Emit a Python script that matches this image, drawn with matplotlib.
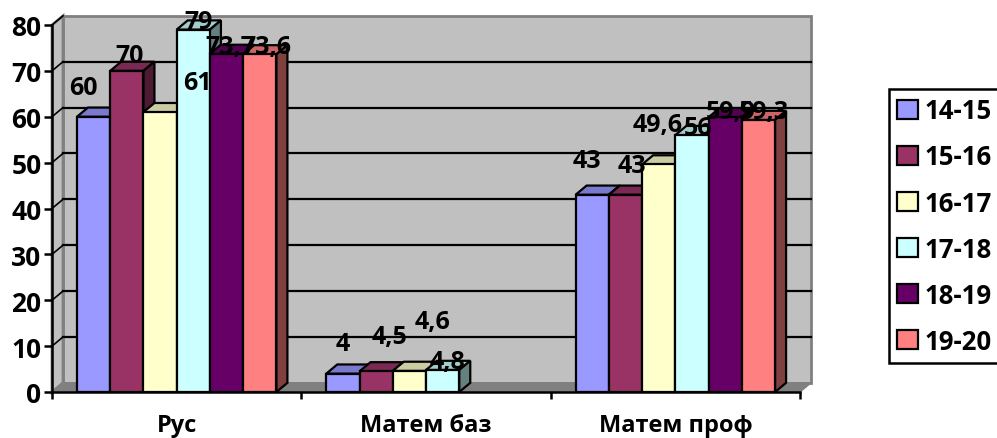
import numpy as np
import matplotlib
matplotlib.use("Agg")
import matplotlib.pyplot as plt
from matplotlib.colors import to_rgb
from matplotlib.patches import Polygon

####  Data  ####
categories = ['Рус', 'Матем баз', 'Матем проф']
years = ['14-15', '15-16', '16-17', '17-18', '18-19', '19-20']
v_1415 = [60, 4, 43]
v_1516 = [70, 4.5, 43]
v_1617 = [61, 4.6, 49.6]
v_1718 = [79, 4.8, 56]
v_1819 = [73.7, np.nan, 59.9]
v_1920 = [73.6, np.nan, 59.3]
series = [v_1415, v_1516, v_1617, v_1718, v_1819, v_1920]
yticks = [0, 10, 20, 30, 40, 50, 60, 70, 80]

####  Style  ####
colors = ['#9999FF', '#993366', '#FFFFCC', '#CCFFFF', '#660066', '#FF8080']
# label nudges in pixels from the bar's top centre, picked by eye
label_nudge = [
    [(-10, 29), (0, 30), (-5, 34)],
    [(3, 15), (13, 35), (6, 29)],
    [(37, 30), (23, 49), (-1, 40)],
    [(5, 8), (5, 8), (6, 8)],
    [(4, 7), None, (6, 6)],
    [(7, 8), None, (5, 8)],
]

plt.rcParams['font.family'] = ['Open Sans', 'DejaVu Sans']
plt.rcParams['font.weight'] = 'bold'

fig = plt.figure(figsize=(9.97, 4.39), dpi=100)
ax = fig.add_axes([52 / 997, (439 - 393) / 439, 748 / 997, 367 / 439])
ax.set_xlim(0, 3)
ax.set_ylim(0, 80)

w = 33.2 / 249
dx = 11 / 249
dy = 2.0
wall = '#C0C0C0'
edge = '#808080'

####  Walls, floor, grid  ####
ax.add_patch(Polygon([(dx, dy), (3 + dx, dy), (3 + dx, 80 + dy), (dx, 80 + dy)],
                     fc=wall, ec=edge, lw=2, clip_on=False, zorder=1))
ax.add_patch(Polygon([(0, 0), (dx, dy), (dx, 80 + dy), (0, 80)],
                     fc=wall, ec=edge, lw=2, clip_on=False, zorder=1))
ax.add_patch(Polygon([(0, 0), (dx, dy), (3 + dx, dy), (3, 0)],
                     fc=edge, ec=edge, lw=1, clip_on=False, zorder=1.5))
for t in yticks[1:-1]:
    ax.plot([dx, 3 + dx], [t + dy, t + dy], color='black', lw=1.6, clip_on=False, zorder=2)
for t in yticks:
    ax.plot([0, dx], [t, t + dy], color='black' if t else edge, lw=1.2, clip_on=False, zorder=2)

####  Bars  ####
x = np.arange(len(categories)) + 0.5
handles = []
for j, vals in enumerate(series):
    pos = x + (j - 2.5) * w
    z = 3 + j
    bars = ax.bar(pos, vals, w, color=colors[j], edgecolor='black', linewidth=1.6,
                  label=years[j], zorder=z + 0.5)
    handles.append(bars[0])
    base = np.array(to_rgb(colors[j]))
    for p, v in zip(pos, vals):
        if np.isnan(v):
            continue
        l, r = p - w / 2, p + w / 2
        ax.add_patch(Polygon([(l, v), (l + dx, v + dy), (r + dx, v + dy), (r, v)],
                             fc=base * 0.8, ec='black', lw=1.6, clip_on=False, zorder=z))
        ax.add_patch(Polygon([(r, 0), (r + dx, dy), (r + dx, v + dy), (r, v)],
                             fc=base * 0.5, ec='black', lw=1.6, clip_on=False, zorder=z))

####  Value labels  ####
for j, vals in enumerate(series):
    pos = x + (j - 2.5) * w
    for i, (p, v) in enumerate(zip(pos, vals)):
        if np.isnan(v):
            continue
        txt = ('%g' % v).replace('.', ',')
        nx, ny = label_nudge[j][i]
        ax.annotate(txt, (p, v), xytext=(nx * 0.72, ny * 0.72), textcoords='offset points',
                    ha='center', va='center', fontsize=18, fontweight='bold',
                    color='black', zorder=20, annotation_clip=False)

####  Axes  ####
for s in ['top', 'right']:
    ax.spines[s].set_visible(False)
for s in ['left', 'bottom']:
    ax.spines[s].set_linewidth(1.8)
    ax.spines[s].set_zorder(15)
ax.set_yticks(yticks)
ax.set_xticks([0, 1, 2, 3])
ax.set_xticklabels([])
ax.set_xticks(x, minor=True)
ax.set_xticklabels(categories, minor=True, fontsize=17, fontweight='bold')
ax.tick_params(axis='x', which='major', length=5, width=1.8)
ax.tick_params(axis='x', which='minor', length=0, pad=15)
ax.tick_params(axis='y', length=6, width=1.8, labelsize=19, pad=1.5)
for lab in ax.get_yticklabels():
    lab.set_fontweight('bold')

leg = fig.legend(handles, years, loc='upper left', bbox_to_anchor=(889 / 997, 1 - 90 / 439),
                 bbox_transform=fig.transFigure, fontsize=18.5, frameon=True, fancybox=False,
                 edgecolor='black', framealpha=1, handlelength=0.78, handleheight=0.78,
                 handletextpad=0.27, labelspacing=0.74, borderpad=0.33, borderaxespad=0)
leg.get_frame().set_linewidth(1.8)

fig.savefig('out.png', dpi=100)
